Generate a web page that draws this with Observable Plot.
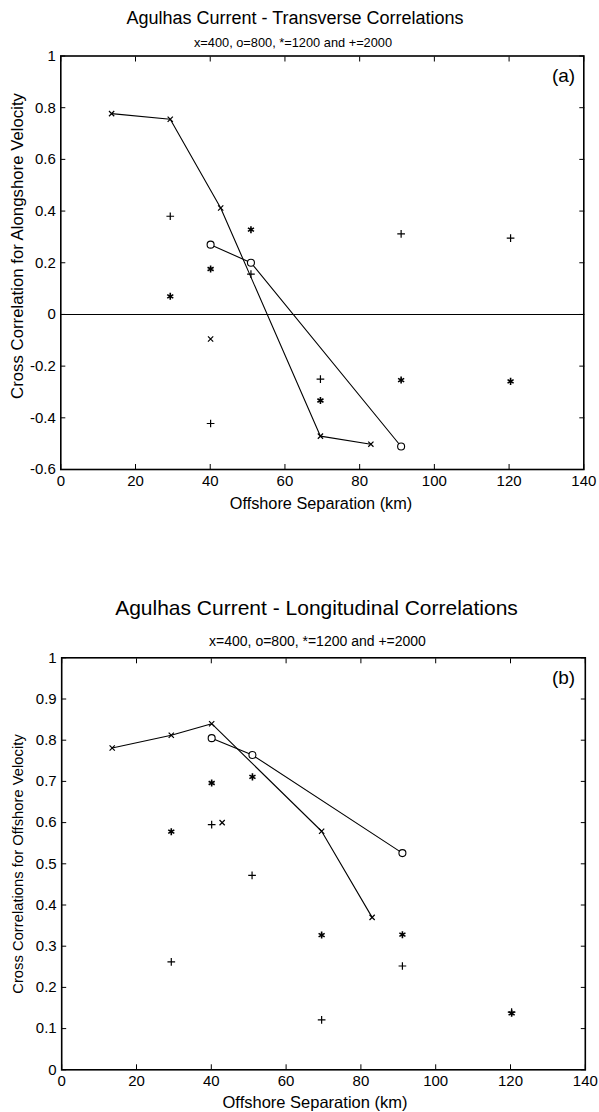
<!DOCTYPE html>
<html>
<head>
<meta charset="utf-8">
<script src="https://cdn.jsdelivr.net/npm/d3@7"></script>
<script src="https://cdn.jsdelivr.net/npm/@observablehq/plot@0.6"></script>
<style>
  body { margin: 0; background: #fff; }
  #page { position: relative; width: 599px; height: 1112px; overflow: hidden;
          font-family: "Liberation Sans", Arial, Helvetica, sans-serif; color: #000; }
  .panel { position: absolute; left: 0; }
  .t { position: absolute; white-space: nowrap; transform: translate(-50%, -50%); line-height: 1; }
  .rot { transform: translate(-50%, -50%) rotate(-90deg); }
</style>
</head>
<body>
<div id="page"></div>
<script>
// Shared axis ticks
const xTicks = [0, 20, 40, 60, 80, 100, 120, 140];
const yTicksA = [-0.6, -0.4, -0.2, 0, 0.2, 0.4, 0.6, 0.8, 1];
const yTicksB = [0, 0.1, 0.2, 0.3, 0.4, 0.5, 0.6, 0.7, 0.8, 0.9, 1];

// (a) Transverse correlations, alongshore velocity
const aX400LineX = [13.6, 29.3, 42.8, 69.5, 83.0];
const aX400LineY = [0.777, 0.755, 0.412, -0.471, -0.502];
const aX400PtX = [40.1];
const aX400PtY = [-0.095];
const aO800X = [40.1, 50.9, 91.1];
const aO800Y = [0.270, 0.200, -0.511];
const aS1200X = [29.3, 40.1, 50.9, 69.5, 91.1, 120.4];
const aS1200Y = [0.070, 0.176, 0.328, -0.333, -0.254, -0.259];
const aP2000X = [29.3, 40.1, 50.9, 69.5, 91.1, 120.4];
const aP2000Y = [0.380, -0.422, 0.156, -0.250, 0.312, 0.295];

// (b) Longitudinal correlations, offshore velocity
const bX400LineX = [13.5, 29.3, 40.1, 69.5, 83.0];
const bX400LineY = [0.781, 0.812, 0.840, 0.579, 0.370];
const bX400PtX = [42.9];
const bX400PtY = [0.600];
const bO800X = [40.1, 51.0, 91.1];
const bO800Y = [0.805, 0.764, 0.526];
const bS1200X = [29.3, 40.1, 51.0, 69.5, 91.1, 120.3];
const bS1200Y = [0.578, 0.696, 0.711, 0.327, 0.328, 0.137];
const bP2000X = [29.3, 40.1, 50.9, 69.5, 91.1, 120.3];
const bP2000Y = [0.262, 0.595, 0.472, 0.121, 0.252, 0.140];

const zip = (xs, ys) => xs.map((x, i) => ({x, y: ys[i]}));
const fmtY = d => String(+d.toFixed(1));

function panel(cfg) {
  const s = cfg.series;
  const marks = [];
  if (cfg.zeroLine) marks.push(Plot.ruleY([0], {stroke: "#000", strokeWidth: 1.1}));
  marks.push(
    Plot.line(zip(s.x400LineX, s.x400LineY), {x: "x", y: "y", stroke: "#000", strokeWidth: 1.1}),
    Plot.line(zip(s.o800X, s.o800Y), {x: "x", y: "y", stroke: "#000", strokeWidth: 1.1}),
    Plot.dot(zip(s.x400LineX, s.x400LineY).concat(zip(s.x400PtX, s.x400PtY)),
      {x: "x", y: "y", symbol: "times", r: 2.5, stroke: "#000", strokeWidth: 1.2}),
    Plot.dot(zip(s.o800X, s.o800Y), {x: "x", y: "y", symbol: "circle", r: 3.5, stroke: "#000", fill: "#fff", strokeWidth: 1.1}),
    Plot.dot(zip(s.s1200X, s.s1200Y), {x: "x", y: "y", symbol: "asterisk", r: 3.3, stroke: "#000", strokeWidth: 1.6}),
    Plot.dot(zip(s.p2000X, s.p2000Y), {x: "x", y: "y", symbol: "plus", r: 2.6, stroke: "#000", strokeWidth: 1.2}),
    // tick labels
    Plot.axisX({anchor: "bottom", ticks: xTicks, tickSize: 0, tickPadding: 6, tickFormat: d => String(d), label: null}),
    Plot.axisY({anchor: "left", ticks: cfg.yTicks, tickSize: 0, tickPadding: 5, tickFormat: fmtY, label: null}),
    // inward ticks on all four sides
    Plot.axisX({anchor: "bottom", ticks: xTicks, tickSize: -5, tickFormat: () => "", label: null}),
    Plot.axisX({anchor: "top", ticks: xTicks, tickSize: -5, tickFormat: () => "", label: null}),
    Plot.axisY({anchor: "left", ticks: cfg.yTicks, tickSize: -5, tickFormat: () => "", label: null}),
    Plot.axisY({anchor: "right", ticks: cfg.yTicks, tickSize: -5, tickFormat: () => "", label: null}),
    Plot.frame({stroke: "#000", strokeWidth: 1.6})
  );
  return Plot.plot({
    width: 599,
    height: cfg.height,
    marginLeft: cfg.marginLeft,
    marginRight: cfg.marginRight,
    marginTop: cfg.marginTop,
    marginBottom: cfg.marginBottom,
    style: {fontFamily: '"Liberation Sans", Arial, Helvetica, sans-serif', fontSize: "15px", color: "#000", background: "transparent", overflow: "visible"},
    x: {domain: [0, 140]},
    y: {domain: cfg.yDomain},
    marks
  });
}

const page = document.getElementById("page");

function addPanel(top, chart) {
  chart.classList.add("panel");
  chart.style.top = top + "px";
  page.appendChild(chart);
}

function addText(txt, x, y, size, rotated) {
  const d = document.createElement("div");
  d.className = "t" + (rotated ? " rot" : "");
  d.style.left = x + "px";
  d.style.top = y + "px";
  d.style.fontSize = size + "px";
  d.textContent = txt;
  page.appendChild(d);
}

addPanel(0, panel({
  height: 530, marginTop: 55.5, marginBottom: 61, marginLeft: 60.3, marginRight: 15.7,
  yDomain: [-0.6, 1], yTicks: yTicksA, zeroLine: true,
  series: {x400LineX: aX400LineX, x400LineY: aX400LineY, x400PtX: aX400PtX, x400PtY: aX400PtY,
           o800X: aO800X, o800Y: aO800Y, s1200X: aS1200X, s1200Y: aS1200Y, p2000X: aP2000X, p2000Y: aP2000Y}
}));

addPanel(560, panel({
  height: 552, marginTop: 97.3, marginBottom: 42.7, marginLeft: 61.2, marginRight: 14.2,
  yDomain: [0, 1], yTicks: yTicksB, zeroLine: false,
  series: {x400LineX: bX400LineX, x400LineY: bX400LineY, x400PtX: bX400PtX, x400PtY: bX400PtY,
           o800X: bO800X, o800Y: bO800Y, s1200X: bS1200X, s1200Y: bS1200Y, p2000X: bP2000X, p2000Y: bP2000Y}
}));

// Titles, subtitles, panel letters and axis labels
addText("Agulhas Current - Transverse Correlations", 295, 18, 18);
addText("x=400, o=800, *=1200 and +=2000", 293, 43, 12.8);
addText("(a)", 563.5, 75, 19);
addText("Offshore Separation (km)", 321, 503, 16.3);
addText("Cross Correlation for Alongshore Velocity", 18, 246, 16.8, true);

addText("Agulhas Current - Longitudinal Correlations", 316.5, 607, 21);
addText("x=400, o=800, *=1200 and +=2000", 317.5, 641, 14);
addText("(b)", 563.5, 677, 19);
addText("Offshore Separation (km)", 315, 1102, 16.5);
addText("Cross Correlations for Offshore Velocity", 18, 864, 14.8, true);
</script>
</body>
</html>
